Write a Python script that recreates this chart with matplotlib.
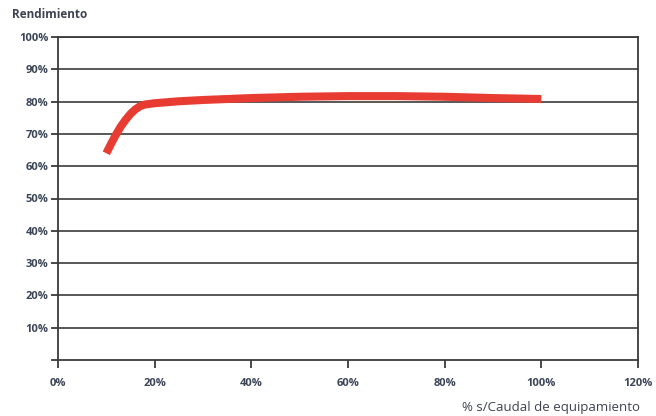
import matplotlib
matplotlib.use("Agg")
import matplotlib.pyplot as plt
from matplotlib.ticker import FuncFormatter

# curve (% of rated flow vs efficiency)
caudal = [10, 11, 12, 13, 14, 15, 16, 17, 18, 20, 25, 30, 40, 50, 60, 70, 80, 90, 100]
rendimiento = [64.0, 67.0, 69.8, 72.3, 74.4, 76.2, 77.6, 78.6, 79.1, 79.5, 80.1, 80.5,
               81.1, 81.5, 81.7, 81.7, 81.5, 81.1, 80.8]

xticks = [0, 20, 40, 60, 80, 100, 120]
yticks = [10, 20, 30, 40, 50, 60, 70, 80, 90, 100]

plt.rcParams['font.family'] = ['Open Sans', 'DejaVu Sans']
txtcol = '#3b4557'
axcol = '#3a3a3a'

fig = plt.figure(figsize=(6.56, 4.16), dpi=100)
ax = fig.add_axes([58/656, 1-360/416, 580/656, 323/416])

ax.set_xlim(0, 120)
ax.set_ylim(0, 100)

for y in yticks:
    ax.axhline(y, color='#4a4a4a', lw=1.3, zorder=1)

ax.plot(caudal, rendimiento, color='#e83c32', lw=5.8, solid_capstyle='butt',
        solid_joinstyle='round', zorder=3)

ax.set_xticks(xticks)
ax.set_yticks([0] + yticks)
ax.xaxis.set_major_formatter(FuncFormatter(lambda v, p: "%d%%" % v))
ax.yaxis.set_major_formatter(FuncFormatter(lambda v, p: "" if v == 0 else "%d%%" % v))
ax.tick_params(axis='x', direction='out', length=6, width=1.3, color=axcol,
               labelsize=8, labelcolor=txtcol, pad=7)
ax.tick_params(axis='y', direction='out', length=5, width=1.3, color=axcol,
               labelsize=8, labelcolor=txtcol, pad=2)

for s in ['left', 'bottom', 'right', 'top']:
    ax.spines[s].set_color(axcol)
    ax.spines[s].set_linewidth(1.3)

for lab in ax.get_xticklabels() + ax.get_yticklabels():
    lab.set_fontweight('bold')

fig.text(12/656, 1-15/416, "Rendimiento", fontsize=8.5, color='#3d4350',
         fontweight='bold', ha='left', va='center')
fig.text(640/656, 1-407/416, "% s/Caudal de equipamiento", fontsize=9.5,
         color='#3d4350', ha='right', va='center')

fig.savefig("out.png", dpi=100)
